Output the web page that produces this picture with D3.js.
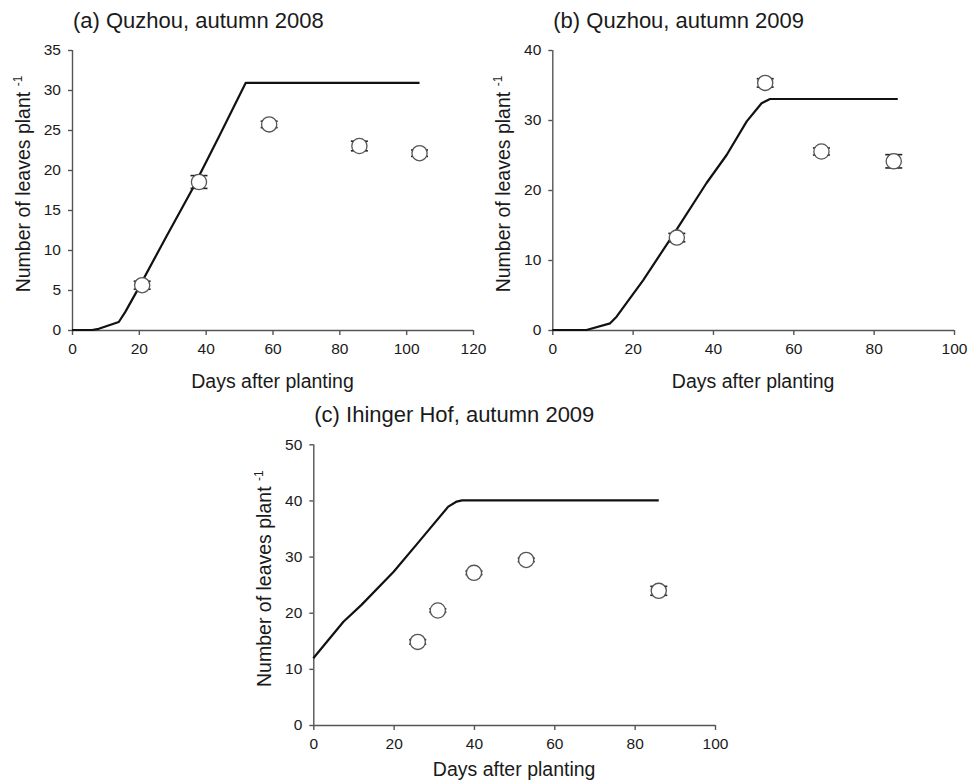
<!DOCTYPE html>
<html>
<head>
<meta charset="utf-8">
<script src="https://cdn.jsdelivr.net/npm/d3@7"></script>
<style>
  html, body { margin: 0; padding: 0; background: #fff; }
  svg { display: block; font-family: Arial, "Liberation Sans", sans-serif; }
</style>
</head>
<body>
<svg id="chart" width="969" height="782"></svg>
<script>
// Panel titles
const titles = ["(a) Quzhou, autumn 2008", "(b) Quzhou, autumn 2009", "(c) Ihinger Hof, autumn 2009"];

// Simulated leaf number (model line): day and value
const simDaysA = [0, 6, 8, 14, 16, 20, 28, 36, 44, 52, 104];
const simValsA = [0, 0, 0.15, 1.0, 2.3, 5.3, 11.5, 17.6, 24.2, 30.9, 30.9];
const simDaysB = [0, 8.5, 14.4, 16, 22.6, 30.9, 38.4, 43.4, 48.4, 52.1, 54.2, 86];
const simValsB = [0, 0, 0.95, 1.9, 7.1, 14.3, 21.0, 25.0, 29.8, 32.4, 33.0, 33.0];
const simDaysC = [0, 7.5, 12, 20, 26, 33.6, 35.7, 37, 86];
const simValsC = [11.9, 18.4, 21.4, 27.3, 32.4, 38.9, 39.8, 40, 40];

// Observed leaf number (mean and standard error)
const obsDaysA = [21, 38, 59, 86, 104];
const obsValsA = [5.6, 18.5, 25.7, 23.0, 22.1];
const obsErrA  = [0.5, 0.8, 0.4, 0.6, 0.4];
const obsDaysB = [31, 53, 67, 85];
const obsValsB = [13.2, 35.3, 25.5, 24.1];
const obsErrB  = [0.6, 0.6, 0.5, 0.95];
const obsDaysC = [26, 31, 40, 53, 86];
const obsValsC = [14.8, 20.4, 27.1, 29.4, 23.9];
const obsErrC  = [0.4, 0.3, 0.3, 0.3, 0.8];

// Axis ticks
const xTicksA = [0, 20, 40, 60, 80, 100, 120];
const xTicksB = [0, 20, 40, 60, 80, 100];
const xTicksC = [0, 20, 40, 60, 80, 100];
const yTicksA = [0, 5, 10, 15, 20, 25, 30, 35];
const yTicksB = [0, 10, 20, 30, 40];
const yTicksC = [0, 10, 20, 30, 40, 50];

const xLabel = "Days after planting";
const yLabel = "Number of leaves plant";

const panels = [
  { title: titles[0], left: 72, right: 473, top: 50, bottom: 330, xLabelGap: 58,
    xTicks: xTicksA, yTicks: yTicksA,
    sim: simDaysA.map((d, i) => [d, simValsA[i]]),
    obs: obsDaysA.map((d, i) => ({ d, v: obsValsA[i], e: obsErrA[i] })) },
  { title: titles[1], left: 552.3, right: 954, top: 50, bottom: 330, xLabelGap: 58,
    xTicks: xTicksB, yTicks: yTicksB,
    sim: simDaysB.map((d, i) => [d, simValsB[i]]),
    obs: obsDaysB.map((d, i) => ({ d, v: obsValsB[i], e: obsErrB[i] })) },
  { title: titles[2], left: 313.3, right: 715, top: 444.3, bottom: 725, xLabelGap: 51,
    xTicks: xTicksC, yTicks: yTicksC,
    sim: simDaysC.map((d, i) => [d, simValsC[i]]),
    obs: obsDaysC.map((d, i) => ({ d, v: obsValsC[i], e: obsErrC[i] })) }
];

const svg = d3.select("#chart");
svg.append("rect").attr("width", 969).attr("height", 782).attr("fill", "#fff");

const axisColor = "#555";
const textColor = "#1a1a1a";

panels.forEach(p => {
  const x = d3.scaleLinear()
    .domain([p.xTicks[0], p.xTicks[p.xTicks.length - 1]])
    .range([p.left, p.right]);
  const y = d3.scaleLinear()
    .domain([p.yTicks[0], p.yTicks[p.yTicks.length - 1]])
    .range([p.bottom, p.top]);

  const g = svg.append("g");

  // x axis
  const xa = g.append("g")
    .attr("transform", `translate(0,${p.bottom})`)
    .call(d3.axisBottom(x).tickValues(p.xTicks).tickSize(5).tickPadding(8).tickFormat(d3.format("d")));
  // y axis
  const ya = g.append("g")
    .attr("transform", `translate(${p.left},0)`)
    .call(d3.axisLeft(y).tickValues(p.yTicks).tickSize(4).tickPadding(7).tickFormat(d3.format("d")));

  [xa, ya].forEach(a => {
    a.select(".domain").attr("stroke", axisColor).attr("stroke-width", 1.4);
    a.selectAll(".tick line").attr("stroke", axisColor).attr("stroke-width", 1.4);
    a.selectAll(".tick text").attr("fill", textColor).style("font-size", "15.5px");
  });
  // keep the domain path free of outer end ticks
  xa.select(".domain").attr("d", `M${p.left},0.5H${p.right}`);
  ya.select(".domain").attr("d", `M0.5,${p.bottom}V${p.top}`);

  // title
  g.append("text")
    .attr("x", p.left + 1)
    .attr("y", p.top - 22)
    .attr("fill", textColor)
    .style("font-size", "22px")
    .text(p.title);

  // x label
  g.append("text")
    .attr("x", (p.left + p.right) / 2)
    .attr("y", p.bottom + p.xLabelGap)
    .attr("text-anchor", "middle")
    .attr("fill", textColor)
    .style("font-size", "19.5px")
    .text(xLabel);

  // y label with superscript
  const yl = g.append("text")
    .attr("transform", `translate(${p.left - 42},${(p.top + p.bottom) / 2 - 6}) rotate(-90)`)
    .attr("text-anchor", "middle")
    .attr("fill", textColor)
    .style("font-size", "19.5px");
  yl.append("tspan").text(yLabel + " ");
  yl.append("tspan").attr("dy", -8).style("font-size", "12px").text("-1");

  // simulated line
  g.append("path")
    .datum(p.sim)
    .attr("fill", "none")
    .attr("stroke", "#111")
    .attr("stroke-width", 2.2)
    .attr("stroke-linejoin", "round")
    .attr("d", d3.line().x(d => x(d[0])).y(d => y(d[1])));

  // observations: error bars then circles
  const capW = 8.5;
  const og = g.append("g");
  p.obs.forEach(o => {
    const cx = x(o.d), y1 = y(o.v + o.e), y0 = y(o.v - o.e);
    og.append("line").attr("x1", cx).attr("x2", cx).attr("y1", y1).attr("y2", y0)
      .attr("stroke", "#222").attr("stroke-width", 1.3);
    og.append("line").attr("x1", cx - capW).attr("x2", cx + capW).attr("y1", y1).attr("y2", y1)
      .attr("stroke", "#222").attr("stroke-width", 1.6);
    og.append("line").attr("x1", cx - capW).attr("x2", cx + capW).attr("y1", y0).attr("y2", y0)
      .attr("stroke", "#222").attr("stroke-width", 1.6);
    og.append("circle").attr("cx", cx).attr("cy", y(o.v)).attr("r", 7.6)
      .attr("fill", "#fff").attr("stroke", "#555").attr("stroke-width", 1.3);
  });
});
</script>
</body>
</html>
